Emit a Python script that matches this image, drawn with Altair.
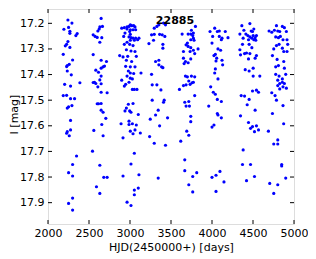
import altair as alt
import pandas as pd

# ---- data (HJD-2450000, I mag) ----
season1 = [(2243,17.187),(2292,17.199),(2194,17.223),(2251,17.216),(2267,17.231),(2267,17.239),(2356,17.240),(2340,17.248),
           (2243,17.271),(2227,17.282),(2211,17.288),(2267,17.294),(2186,17.321),(2300,17.343),(2259,17.360),(2235,17.365),
           (2227,17.369),(2235,17.386),(2284,17.401),(2389,17.432),(2203,17.438),(2275,17.445),(2186,17.482),(2227,17.481),
           (2275,17.494),(2324,17.494),(2292,17.521),(2251,17.526),(2235,17.531),(2275,17.579),(2235,17.623),(2227,17.629),
           (2275,17.616),(2259,17.639),(2348,17.718),(2300,17.751),(2251,17.783),(2300,17.796),(2300,17.882),(2251,17.903),
           (2300,17.929)]
season2 = [(2648,17.181),(2664,17.212),(2632,17.214),(2624,17.222),(2608,17.230),(2551,17.245),(2575,17.251),(2600,17.255),
           (2656,17.256),(2632,17.274),(2551,17.322),(2648,17.344),(2713,17.349),(2672,17.370),(2648,17.375),(2689,17.367),
           (2583,17.383),(2616,17.391),(2648,17.406),(2632,17.421),(2567,17.430),(2551,17.431),(2583,17.435),(2648,17.436),
           (2608,17.448),(2648,17.469),(2721,17.471),(2648,17.513),(2616,17.514),(2600,17.514),(2648,17.539),(2672,17.547),
           (2705,17.571),(2656,17.595),(2559,17.618),(2672,17.639),(2543,17.699),(2632,17.754),(2680,17.801),(2721,17.801),
           (2591,17.838),(2632,17.864)]
season3 = [(2899,17.219),(2931,17.217),(2964,17.214),(2988,17.212),(3004,17.206),(3020,17.209),(3045,17.209),(3061,17.214),
           (2964,17.222),(3004,17.225),(3037,17.225),(3069,17.225),(2996,17.232),(2939,17.238),(3004,17.243),(2923,17.251),
           (2988,17.253),(3012,17.256),(3037,17.258),(3069,17.258),(3109,17.258),(3093,17.264),(3004,17.266),(3053,17.266),
           (2964,17.274),(2931,17.282),(2996,17.282),(3037,17.287),(2956,17.303),(3012,17.308),(3061,17.310),(2874,17.326),
           (2915,17.331),(2972,17.329),(3077,17.329),(2956,17.344),(3020,17.349),(2947,17.368),(3004,17.370),(3061,17.370),
           (2980,17.386),(3004,17.394),(3134,17.394),(3045,17.396),(2964,17.406),(3004,17.414),(3029,17.417),(2899,17.422),
           (2988,17.430),(2947,17.438),(2931,17.445),(3029,17.458),(3053,17.458),(3085,17.458),(3037,17.513),(2980,17.516),
           (2956,17.531),(2939,17.542),(2996,17.542),(3012,17.547),(3101,17.556),(2988,17.582),(2891,17.592),(2988,17.595),
           (3029,17.592),(3077,17.597),(3061,17.616),(3004,17.621),(3037,17.631),(3126,17.628),(2915,17.647),(3053,17.707),
           (3012,17.749),(2915,17.796),(3109,17.791),(3101,17.843),(3053,17.851),(3053,17.869),(2964,17.898),(3012,17.911)]
season4 = [(3296,17.219),(3328,17.212),(3352,17.206),(3409,17.199),(3433,17.206),(3263,17.245),(3296,17.243),(3361,17.243),
           (3393,17.245),(3425,17.251),(3287,17.266),(3231,17.279),(3401,17.282),(3401,17.297),(3352,17.344),(3312,17.349),
           (3352,17.362),(3385,17.370),(3401,17.373),(3263,17.399),(3271,17.440),(3328,17.440),(3377,17.460),(3271,17.500),
           (3417,17.500),(3409,17.508),(3344,17.539),(3312,17.558),(3247,17.574),(3458,17.569),(3361,17.600),(3239,17.642),
           (3296,17.668),(3433,17.676),(3344,17.804)]
season5 = [(3798,17.212),(3749,17.227),(3773,17.238),(3741,17.242),(3765,17.248),(3636,17.242),(3709,17.242),(3773,17.258),
           (3741,17.264),(3781,17.266),(3700,17.277),(3684,17.284),(3709,17.290),(3741,17.295),(3830,17.300),(3773,17.305),
           (3652,17.310),(3733,17.310),(3789,17.318),(3652,17.336),(3741,17.339),(3676,17.349),(3709,17.354),(3660,17.357),
           (3676,17.406),(3700,17.409),(3749,17.406),(3789,17.409),(3717,17.425),(3757,17.432),(3733,17.438),(3773,17.430),
           (3684,17.440),(3652,17.443),(3603,17.458),(3789,17.482),(3668,17.508),(3717,17.505),(3684,17.523),(3725,17.523),
           (3741,17.563),(3741,17.584),(3692,17.621),(3717,17.637),(3619,17.660),(3668,17.733),(3668,17.775),(3765,17.798),
           (3814,17.783),(3717,17.830),(3765,17.858)]
season6 = [(4033,17.219),(4065,17.232),(4008,17.251),(4089,17.251),(4122,17.258),(4195,17.256),(4089,17.230),(3976,17.232),
           (4162,17.232),(4114,17.264),(4000,17.277),(4073,17.300),(4105,17.305),(4041,17.321),(4024,17.326),(4057,17.336),
           (4122,17.344),(4049,17.347),(4130,17.362),(4041,17.378),(4033,17.394),(4073,17.417),(3984,17.448),(4016,17.469),
           (4041,17.477),(4065,17.497),(4114,17.505),(3960,17.523),(4065,17.552),(4073,17.558),(4114,17.569),(4024,17.597),
           (4000,17.605),(4097,17.778),(4049,17.793),(4000,17.801),(4146,17.819),(4049,17.856)]
season7 = [(4462,17.201),(4364,17.209),(4510,17.222),(4389,17.227),(4478,17.230),(4494,17.232),(4340,17.242),(4413,17.242),
           (4437,17.248),(4502,17.248),(4542,17.248),(4462,17.253),(4486,17.258),(4526,17.256),(4510,17.264),(4380,17.258),
           (4445,17.264),(4534,17.266),(4372,17.282),(4453,17.282),(4340,17.303),(4486,17.295),(4348,17.323),(4397,17.318),
           (4421,17.316),(4462,17.318),(4542,17.326),(4526,17.336),(4445,17.339),(4405,17.381),(4453,17.386),(4502,17.375),
           (4502,17.406),(4583,17.406),(4494,17.464),(4542,17.461),(4567,17.469),(4356,17.482),(4397,17.484),(4453,17.497),
           (4429,17.518),(4526,17.539),(4348,17.561),(4445,17.587),(4494,17.603),(4470,17.610),(4542,17.600),(4567,17.616),
           (4518,17.623),(4380,17.694),(4372,17.751),(4470,17.751),(4421,17.814),(4518,17.798)]
season8 = [(4696,17.230),(4729,17.235),(4786,17.209),(4858,17.212),(4883,17.217),(4761,17.227),(4802,17.230),(4826,17.232),
           (4907,17.232),(4777,17.253),(4810,17.256),(4834,17.251),(4866,17.264),(4915,17.264),(4818,17.282),(4923,17.282),
           (4786,17.287),(4753,17.300),(4858,17.297),(4875,17.310),(4915,17.310),(4737,17.326),(4794,17.341),(4875,17.349),
           (4777,17.370),(4810,17.365),(4883,17.375),(4899,17.399),(4777,17.399),(4818,17.406),(4858,17.417),(4802,17.422),
           (4858,17.430),(4826,17.435),(4883,17.435),(4802,17.443),(4866,17.448),(4826,17.456),(4907,17.453),(4729,17.471),
           (4769,17.482),(4786,17.500),(4866,17.521),(4737,17.552),(4688,17.621),(4874,17.592),(4802,17.655),(4802,17.671),
           (4753,17.671),(4850,17.751),(4850,17.757),(4899,17.804),(4704,17.825),(4802,17.830),(4753,17.864)]

x_ticks = [2000, 2500, 3000, 3500, 4000, 4500, 5000]
y_ticks = [17.2, 17.3, 17.4, 17.5, 17.6, 17.7, 17.8, 17.9]
x_domain = [2000, 5000]
y_domain = [17.1441, 17.9833]
star_id = "22885"

rows = []
for s in [season1, season2, season3, season4, season5, season6, season7, season8]:
    rows.extend(s)
df = pd.DataFrame(rows, columns=["hjd", "mag"])
xt = pd.DataFrame({"hjd": x_ticks})
yt = pd.DataFrame({"mag": y_ticks})

W, H = 246, 215
FONT = "DejaVu Sans"
TL = 4

xscale = alt.Scale(domain=x_domain, nice=False, zero=False)
yscale = alt.Scale(domain=y_domain, nice=False, zero=False, reverse=True)

xaxis = alt.Axis(values=x_ticks, format="d", title="HJD(2450000+) [days]", ticks=False, tickSize=0,
                 domain=False, grid=False, labelPadding=3, titlePadding=3, labelFontSize=11, titleFontSize=11,
                 labelFont=FONT, titleFont=FONT, labelColor="black", titleColor="black",
                 titleFontWeight="normal", labelFlush=False, labelOverlap=False, labelBound=False)
yaxis = alt.Axis(values=y_ticks, format=".1f", title="I [mag]", ticks=False, tickSize=0,
                 domain=False, grid=False, labelPadding=4, labelFontSize=11, titleFontSize=11,
                 labelFont=FONT, titleFont=FONT, labelColor="black", titleColor="black",
                 titleFontWeight="normal", titleX=-29, titleY=105, labelOverlap=False, labelBound=False)

x_enc = alt.X("hjd:Q", scale=xscale, axis=xaxis)
y_enc = alt.Y("mag:Q", scale=yscale, axis=yaxis)

points = alt.Chart(df).mark_circle(size=10, color="#0000ff", opacity=1).encode(x=x_enc, y=y_enc)

bottom_t = alt.Chart(xt).mark_rule(color="black", strokeWidth=1).encode(
    x=x_enc, y=alt.value(H), y2=alt.value(H - TL))
top_t = alt.Chart(xt).mark_rule(color="black", strokeWidth=1).encode(
    x=x_enc, y=alt.value(0), y2=alt.value(TL))
left_t = alt.Chart(yt).mark_rule(color="black", strokeWidth=1).encode(
    y=y_enc, x=alt.value(0), x2=alt.value(TL))
right_t = alt.Chart(yt).mark_rule(color="black", strokeWidth=1).encode(
    y=y_enc, x=alt.value(W), x2=alt.value(W - TL))

chart = alt.layer(points, bottom_t, top_t, left_t, right_t).properties(
    width=W, height=H,
    title=alt.TitleParams(text=star_id, fontSize=11, fontWeight="bold", font=FONT, color="black",
                          anchor="middle", frame="group", orient="top", offset=0,
                          baseline="alphabetic", dy=26, dx=4),
    autosize=alt.AutoSizeParams(type="none"),
    padding={"left": 40, "top": 1, "right": 14, "bottom": 30},
).configure_view(stroke="black", strokeWidth=1).configure(font=FONT)

chart.save("out.html", embed_options={"renderer": "svg", "actions": False})
